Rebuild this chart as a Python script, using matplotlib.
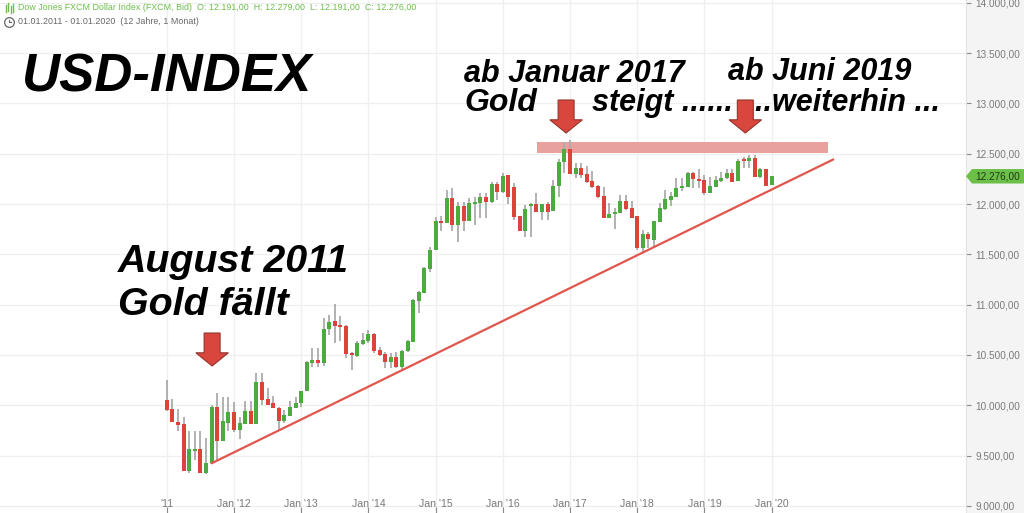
import matplotlib
matplotlib.use('Agg')
import matplotlib.pyplot as plt
import matplotlib.transforms as mtrans
from matplotlib.patches import Rectangle, FancyArrow, Polygon
from matplotlib.lines import Line2D

# ---------------- data (monthly candles, Jan 2011 .. Jan 2020) ----------------
month_index = list(range(109))  # 0 = Jan 2011
opens = [10052, 9962, 9833, 9813, 9346, 9545, 9565, 9326, 9426, 9982, 9644, 9823,
         9933, 9754, 9813, 9942, 9813, 10231, 10062, 10022, 9972, 9843, 9893, 9972,
         10022, 10141, 10420, 10450, 10420, 10758, 10837, 10797, 10788, 10519, 10489, 10609,
         10638, 10708, 10549, 10509, 10430, 10479, 10380, 10539, 10628, 11036, 11116, 11354,
         11543, 11831, 11811, 12060, 11791, 11980, 11831, 12000, 12010, 12070, 12020, 12199,
         12120, 12289, 12169, 11881, 11732, 11980, 12000, 11921, 12000, 11931, 12179, 12418,
         12547, 12298, 12358, 12298, 12229, 12179, 12080, 11861, 11901, 11911, 12030, 11960,
         11881, 11563, 11702, 11642, 11821, 11950, 12040, 12070, 12159, 12169, 12308, 12249,
         12239, 12109, 12169, 12229, 12259, 12308, 12229, 12438, 12428, 12458, 12269, 12348,
         12191]
highs = [10251, 10062, 9962, 9883, 9744, 9744, 9744, 9674, 10002, 10121, 10082, 10082,
         10032, 9883, 10042, 10042, 10320, 10320, 10171, 10092, 9982, 9952, 10042, 10082,
         10141, 10440, 10569, 10569, 10867, 10895, 11006, 10887, 10800, 10530, 10640, 10718,
         10748, 10718, 10579, 10529, 10519, 10529, 10549, 10648, 11056, 11135, 11377, 11573,
         11871, 11881, 12139, 12159, 12020, 12020, 12060, 12070, 12109, 12109, 12219, 12219,
         12308, 12289, 12209, 11881, 11990, 12010, 12109, 12000, 12020, 12239, 12448, 12616,
         12636, 12408, 12408, 12378, 12328, 12189, 12169, 12010, 11960, 12090, 12090, 12030,
         11881, 11742, 11722, 11831, 12010, 12139, 12120, 12259, 12259, 12318, 12318, 12348,
         12289, 12269, 12279, 12318, 12348, 12348, 12448, 12467, 12487, 12487, 12358, 12348,
         12279]
lows = [9943, 9833, 9744, 9346, 9326, 9455, 9326, 9316, 9426, 9455, 9644, 9744,
        9734, 9664, 9813, 9813, 9813, 10002, 10002, 9972, 9744, 9823, 9893, 9972,
        9982, 10141, 10380, 10380, 10390, 10698, 10619, 10638, 10470, 10350, 10480, 10600,
        10619, 10519, 10489, 10370, 10370, 10370, 10360, 10530, 10628, 10917, 11111, 11324,
        11543, 11732, 11811, 11732, 11622, 11732, 11831, 11791, 11861, 11861, 12010, 12040,
        12109, 12000, 11841, 11732, 11672, 11672, 11921, 11841, 11841, 11931, 12070, 12308,
        12298, 12259, 12259, 12209, 12159, 12060, 11861, 11861, 11752, 11911, 11940, 11861,
        11543, 11523, 11563, 11573, 11821, 11940, 11980, 12070, 12129, 12169, 12159, 12159,
        12090, 12109, 12169, 12219, 12249, 12219, 12229, 12358, 12358, 12269, 12259, 12179,
        12191]
closes = [9952, 9833, 9803, 9346, 9565, 9565, 9326, 9426, 9982, 9644, 9843, 9933,
          9754, 9823, 9942, 9813, 10231, 10052, 10002, 9972, 9843, 9903, 9982, 10022,
          10141, 10430, 10450, 10420, 10758, 10827, 10788, 10778, 10509, 10499, 10619, 10648,
          10708, 10539, 10499, 10430, 10479, 10380, 10539, 10638, 11046, 11125, 11364, 11543,
          11831, 11811, 12060, 11791, 11980, 11831, 12010, 12020, 12070, 12020, 12199, 12120,
          12279, 12070, 11871, 11732, 11950, 12000, 11921, 12000, 11921, 12179, 12418, 12547,
          12298, 12358, 12289, 12219, 12169, 12070, 11861, 11901, 11921, 12030, 11950, 11861,
          11563, 11702, 11652, 11831, 11960, 12050, 12080, 12159, 12179, 12308, 12249, 12229,
          12109, 12179, 12239, 12259, 12308, 12219, 12428, 12428, 12458, 12269, 12348, 12179,
          12276]

year_ticks = [0, 12, 24, 36, 48, 60, 72, 84, 96, 108]
year_labels = ["'11", "Jan '12", "Jan '13", "Jan '14", "Jan '15", "Jan '16",
               "Jan '17", "Jan '18", "Jan '19", "Jan '20"]
price_ticks = [9000, 9500, 10000, 10500, 11000, 11500, 12000, 12500, 13000, 13500, 14000]
last_price = 12276

# trend line (support) and resistance band
trend_months = [8, 119]
trend_values = [9423, 12443]
band_months = [66.1, 118.1]
band_values = [12507, 12616]

# arrows: (month, top value, tip value)
arrows = [(8.1, 10718, 10390), (71.3, 13034, 12706), (103.3, 13034, 12706)]


def de_fmt(v):
    s = f"{v:,.2f}"
    return s.replace(',', 'X').replace('.', ',').replace('X', '.')


GREEN = '#4cab3e'
RED = '#dc433b'
WICK = '#ababab'

fig = plt.figure(figsize=(10.24, 5.13), dpi=100)
fig.patch.set_facecolor('white')
ax = fig.add_axes([0, 0, 966 / 1024, 1])
ax.set_xlim(-29.77, 142.7)
ax.set_ylim(8929, 14028)

# right price panel
fig.add_artist(Rectangle((966 / 1024, 0), 58 / 1024, 1, transform=fig.transFigure,
                         facecolor='#f4f4f4', edgecolor='none', zorder=-1))

for s in ['top', 'left', 'bottom']:
    ax.spines[s].set_visible(False)
ax.spines['right'].set_color('#e2e2e2')

# grid
for v in price_ticks:
    ax.axhline(v, color='#efefef', lw=0.9, zorder=0)
for m in year_ticks:
    ax.axvline(m, color='#efefef', lw=0.9, zorder=0)

# y axis on the right
ax.yaxis.tick_right()
ax.set_yticks(price_ticks)
ax.set_yticklabels([de_fmt(v) for v in price_ticks])
ax.tick_params(axis='y', direction='out', length=3.5, width=0.8, color='#8a8a8a',
               pad=3, labelsize=7.2, labelcolor='#7a7a7a')
for lab in ax.get_yticklabels():
    lab.set_fontfamily('Liberation Sans')

# x ticks (inside bottom)
ax.set_xticks(year_ticks)
ax.set_xticklabels([])
ax.tick_params(axis='x', direction='in', length=4, width=0.8, color='#8a8a8a')
bt = mtrans.blended_transform_factory(ax.transData, ax.transAxes)
for m, lab in zip(year_ticks, year_labels):
    ax.text(m, 9 / 513, lab, transform=bt, ha='center', va='center', fontsize=7.6,
            color='#7a7a7a', family='Liberation Sans')

# resistance band
ax.add_patch(Rectangle((band_months[0], band_values[0]), band_months[1] - band_months[0],
                       band_values[1] - band_values[0], facecolor='#e8a19d',
                       edgecolor='none', zorder=1))

# candles
colors = [GREEN if c >= o else RED for o, c in zip(opens, closes)]
bottoms = [min(o, c) for o, c in zip(opens, closes)]
heights = [max(abs(c - o), 18) for o, c in zip(opens, closes)]
ax.vlines(month_index, lows, highs, color=WICK, lw=1.3, zorder=2)
ax.bar(month_index, heights, bottom=bottoms, width=0.72, color=colors, zorder=3)

# trend line
ax.plot(trend_months, trend_values, color='#e0564d', lw=1.6, zorder=4,
        solid_capstyle='round')

# red arrows
for m, top, tip in arrows:
    length = top - tip
    ax.add_patch(FancyArrow(m, top, 0, -length, width=2.85, head_width=5.8,
                            head_length=length * 0.4, length_includes_head=True,
                            facecolor='#d9463d', edgecolor='#93332c', lw=0.8, zorder=6))

# last price tag
pt = mtrans.blended_transform_factory(ax.transAxes, ax.transData)
dx = 6 / 966
dh = 72
ax.add_patch(Polygon([(1.0, last_price), (1.0 + dx, last_price + dh),
                      (1.0 + 58 / 966, last_price + dh), (1.0 + 58 / 966, last_price - dh),
                      (1.0 + dx, last_price - dh)], closed=True, transform=pt,
                     facecolor='#6cc04a', edgecolor='none', clip_on=False, zorder=7))
ax.text(1.0 + 9 / 966, last_price, de_fmt(last_price), transform=pt, ha='left',
        va='center', fontsize=7.2, color='#1f3a12', family='Liberation Sans', zorder=8)

# header
fig.text(18 / 1024, 1 - 8 / 513,
         "Dow Jones FXCM Dollar Index (FXCM, Bid)  O: 12.191,00  H: 12.279,00  L: 12.191,00  C: 12.276,00",
         color='#6cbf4a', fontsize=6.4, va='center', family='Liberation Sans')
fig.text(18 / 1024, 1 - 22 / 513, "01.01.2011 - 01.01.2020  (12 Jahre, 1 Monat)",
         color='#666666', fontsize=6.4, va='center', family='Liberation Sans')
for xi, y0, y1 in [(5.5, 5, 12), (8, 3, 11), (10.5, 6, 13), (13, 4, 12)]:
    fig.add_artist(Line2D([xi / 1024, xi / 1024], [1 - y0 / 513, 1 - y1 / 513],
                          color='#6cbf4a', lw=1.0, transform=fig.transFigure))
fig.add_artist(Line2D([9 / 1024], [1 - 22 / 513], marker='o', ms=7, mfc='none',
                      mec='#666666', mew=0.9, transform=fig.transFigure))
fig.add_artist(Line2D([9 / 1024, 9 / 1024, 11 / 1024], [1 - 19.5 / 513, 1 - 22 / 513, 1 - 22 / 513],
                      color='#666666', lw=0.8, transform=fig.transFigure))

# annotations (drawn inside the axes so the red arrows sit on top of them)
tkw = dict(fontweight='bold', fontstyle='italic', family='Liberation Sans', color='black',
           va='baseline', ha='left', zorder=5, transform=fig.transFigure, clip_on=False)
ax.text(22 / 1024, 1 - 92 / 513, "USD-INDEX", fontsize=38, **tkw)
ax.text(118 / 1024, 1 - 272 / 513, "August 2011", fontsize=28.4, **tkw)
ax.text(118 / 1024, 1 - 315 / 513, "Gold fällt", fontsize=28.4, **tkw)
ax.text(464 / 1024, 1 - 82 / 513, "ab Januar 2017", fontsize=22, **tkw)
ax.text(464 / 1024, 1 - 111 / 513, "Gold", fontsize=23, **tkw)
ax.text(592 / 1024, 1 - 111 / 513, "steigt ......", fontsize=22, **tkw)
ax.text(728 / 1024, 1 - 80 / 513, "ab Juni 2019", fontsize=22, **tkw)
ax.text(738 / 1024, 1 - 111 / 513, "....weiterhin ...", fontsize=22, **tkw)

fig.savefig('out.png', dpi=100)
